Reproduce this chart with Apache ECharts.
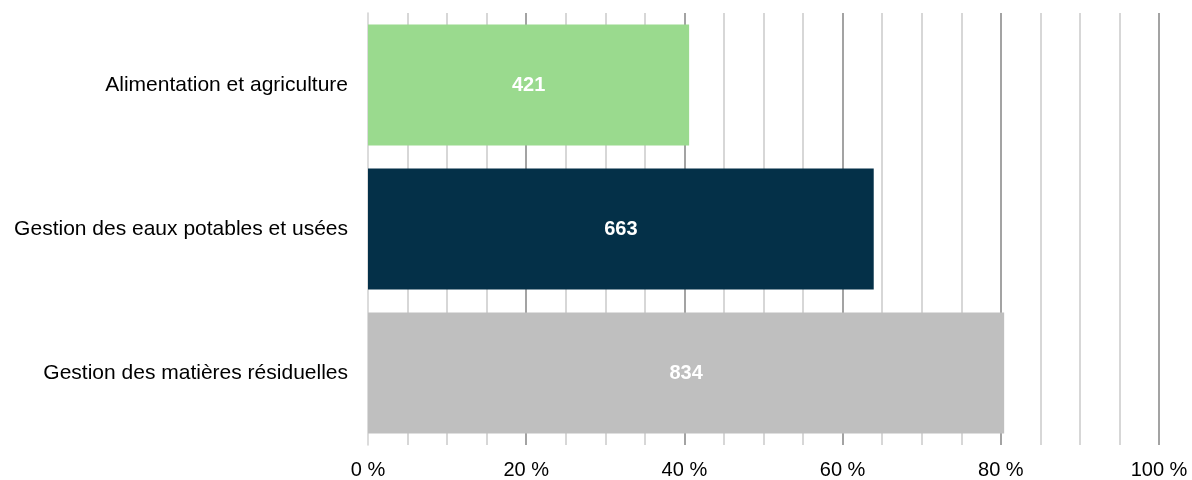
<!DOCTYPE html>
<html>
<head>
<meta charset="utf-8">
<style>
  html, body { margin: 0; padding: 0; background: #ffffff; }
  #chart { width: 1192px; height: 480px; }
</style>
<script src="https://cdn.jsdelivr.net/npm/echarts@6/dist/echarts.min.js"></script>
</head>
<body>
<div id="chart"></div>
<script>
// Number of respondents per sector and the total sample size
const categories = [
  'Alimentation et agriculture',
  'Gestion des eaux potables et usées',
  'Gestion des matières résiduelles'
];
const counts = [421, 663, 834];
const totalRespondents = 1037;
const barColors = ['#9ADA8E', '#043048', '#BFBFBF'];
const tickStep = 20;

// Bar length is the share of respondents (%); label shows the count
const shares = counts.map(c => c / totalRespondents * 100);

const chart = echarts.init(document.getElementById('chart'), null, { renderer: 'canvas' });

chart.setOption({
  animation: false,
  grid: { left: 368, right: 33, top: 13, bottom: 35, containLabel: false },
  xAxis: {
    type: 'value',
    min: 0,
    max: 100,
    interval: tickStep,
    axisLine: { show: false },
    axisTick: { show: false },
    axisLabel: {
      formatter: v => v + ' %',
      color: '#000000',
      fontFamily: 'Liberation Sans, Arial, sans-serif',
      fontSize: 20,
      margin: 15
    },
    splitLine: { show: true, showMinLine: false, lineStyle: { color: '#858585', width: 1.5 } },
    minorTick: { show: false, splitNumber: 4 },
    minorSplitLine: { show: true, lineStyle: { color: '#CACACA', width: 1.5 } }
  },
  yAxis: {
    type: 'category',
    data: categories,
    inverse: true,
    axisLine: { show: true, lineStyle: { color: '#D0D0D0', width: 1.5 } },
    axisTick: { show: false },
    axisLabel: {
      color: '#000000',
      fontFamily: 'Liberation Sans, Arial, sans-serif',
      fontSize: 21,
      margin: 20
    }
  },
  series: [{
    type: 'bar',
    barCategoryGap: '16%',
    data: shares.map((v, i) => ({
      value: v,
      count: counts[i],
      itemStyle: { color: barColors[i] }
    })),
    label: {
      show: true,
      position: 'inside',
      formatter: p => String(p.data.count),
      color: '#ffffff',
      fontWeight: 'bold',
      fontFamily: 'Liberation Sans, Arial, sans-serif',
      fontSize: 20
    }
  }]
});
</script>
</body>
</html>
